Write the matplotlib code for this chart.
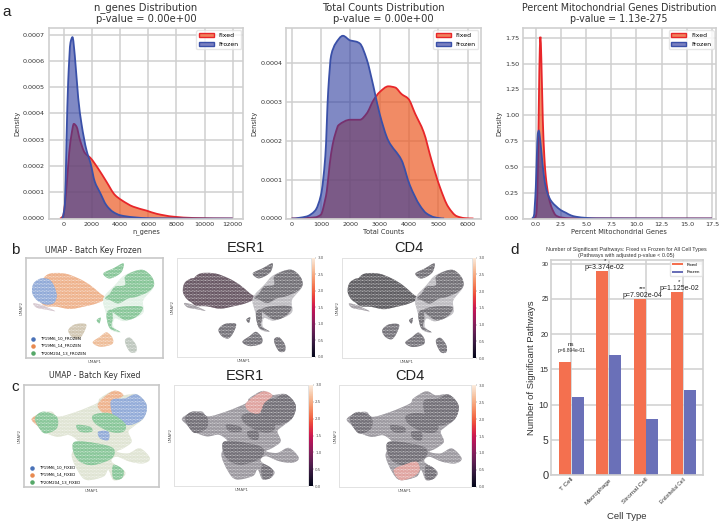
import numpy as np
import matplotlib
matplotlib.use("Agg")
import matplotlib.pyplot as plt
from matplotlib.patches import Patch, PathPatch
from matplotlib.path import Path
from matplotlib.cm import ScalarMappable
from matplotlib.colors import Normalize
import seaborn as sns

W, H = 720, 522

# --- panel a: density curves
genes_x_fixed = [-280, -50, 190, 380, 545, 710, 900, 1140, 1490, 1900, 2440, 3030, 3625, 4100, 4930, 5880, 6590, 7770, 9200, 12000]
genes_y_fixed = [0, 0.00001, 0.00012, 0.00025, 0.00032, 0.00036, 0.00035, 0.0003, 0.00025, 0.00023, 0.00019, 0.00014, 0.00009, 0.00007, 0.000045, 0.00003, 0.000018, 0.000007, 0.000002, 0]
genes_x_frozen = [-140, 70, 190, 308, 474, 616, 780, 1020, 1256, 1611, 1900, 2200, 2560, 3030, 3500, 4030, 4900, 6100, 12000]
genes_y_frozen = [0, 0.00005, 0.0003, 0.00052, 0.00067, 0.00069, 0.00062, 0.00046, 0.00036, 0.00026, 0.00021, 0.00014, 0.0001, 0.00005, 0.000025, 0.000012, 0.000005, 0.000001, 0]

counts_x_fixed = [0, 800, 1000, 1150, 1200, 1300, 1400, 1500, 1600, 2000, 2330, 2560, 2790, 3000, 3300, 3530, 3750, 3980, 4210, 4500, 4770, 5060, 5340, 5630, 5900, 6200]
counts_y_fixed = [0, 0.000003, 0.00001, 0.00005, 0.00007, 0.00014, 0.00019, 0.00022, 0.00024, 0.000254, 0.000254, 0.00027, 0.000304, 0.000325, 0.00034, 0.000337, 0.00032, 0.000308, 0.00027, 0.000223, 0.00015, 0.00008, 0.00003, 0.000006, 0.000001, 0]
counts_x_frozen = [0, 500, 800, 1000, 1150, 1250, 1350, 1500, 1750, 2000, 2200, 2330, 2560, 2790, 3000, 3300, 3750, 4030, 4370, 4600, 4880, 5200]
counts_y_frozen = [0, 0.000005, 0.00002, 0.00006, 0.00016, 0.00033, 0.00042, 0.00045, 0.00047, 0.000458, 0.000455, 0.00045, 0.00041, 0.00034, 0.00027, 0.0002, 0.00015, 0.000086, 0.000034, 0.000013, 0.000003, 0]

mito_x_fixed = [-0.3, 0, 0.1, 0.2, 0.3, 0.4, 0.46, 0.55, 0.7, 0.85, 1.0, 1.3, 1.6, 2, 2.5, 3.5, 17.5]
mito_y_fixed = [0, 0.02, 0.1, 0.45, 1.1, 1.65, 1.76, 1.55, 0.95, 0.6, 0.4, 0.2, 0.1, 0.03, 0.01, 0.002, 0]
mito_x_frozen = [-0.4, -0.2, 0, 0.1, 0.2, 0.3, 0.45, 0.6, 0.8, 1.0, 1.3, 1.6, 2, 2.5, 3, 3.5, 4, 5, 6, 10, 17.5]
mito_y_frozen = [0, 0.02, 0.3, 0.6, 0.82, 0.85, 0.75, 0.6, 0.42, 0.3, 0.21, 0.16, 0.12, 0.08, 0.055, 0.03, 0.017, 0.006, 0.002, 0.001, 0]

# --- panel d
cell_types = ["T Cell", "Macrophage", "Stromal Cell", "Endothelial Cell"]
fixed_counts = [16, 29, 25, 26]
frozen_counts = [11, 17, 8, 12]
stars = ["ns", "*", "***", "*"]
pvals = ["p=6.894e-01", "p=3.374e-02", "p=7.902e-04", "p=1.125e-02"]

# --- panels b/c: cluster outlines, units are arbitrary UMAP units
frozen_orange = [(140, 120), (190, 115), (235, 130), (270, 150), (300, 175), (318, 190), (290, 205), (250, 215), (210, 222), (170, 215), (130, 210), (110, 170)]
frozen_blue = [(97, 155), (105, 140), (125, 130), (150, 135), (165, 160), (170, 185), (160, 205), (135, 208), (110, 195), (97, 175)]
frozen_sliver = [(100, 205), (125, 210), (165, 228), (140, 224), (110, 218)]
frozen_halo = [(310, 190), (345, 150), (375, 120), (430, 105), (462, 150), (430, 195), (428, 235), (375, 258), (345, 250), (340, 275), (362, 292), (330, 282), (318, 235)]
frozen_green = [
    [(375, 125), (400, 110), (430, 105), (455, 125), (462, 150), (445, 170), (410, 185), (385, 190), (355, 205), (330, 195), (315, 190), (330, 175), (345, 155), (375, 150)],
    [(310, 115), (340, 100), (370, 85), (365, 110), (345, 125), (325, 130)],
    [(335, 225), (365, 215), (425, 215), (420, 235), (400, 250), (375, 255), (350, 240)],
    [(322, 230), (335, 225), (338, 250), (335, 275), (360, 290), (330, 280), (320, 250)],
    [(290, 255), (302, 248), (298, 265)],
]
frozen_small = [
    [(205, 285), (225, 268), (258, 268), (250, 295), (235, 312), (215, 305)],
    [(278, 322), (300, 305), (320, 292), (338, 310), (335, 328), (300, 335)],
    [(375, 315), (390, 308), (408, 330), (408, 350), (392, 352), (380, 335)],
]
fixed_body = [(95, 552), (120, 535), (155, 530), (175, 545), (230, 530), (290, 505), (300, 490), (340, 468), (370, 480), (410, 478), (440, 510), (430, 550), (400, 575), (385, 590), (395, 620), (370, 640), (350, 650), (385, 655), (420, 640), (450, 670), (430, 685), (390, 680), (350, 665), (335, 680), (375, 710), (365, 730), (340, 735), (325, 705), (310, 725), (260, 735), (235, 710), (215, 660), (235, 625), (225, 610), (205, 600), (170, 605), (130, 590), (110, 570)]
fixed_blue = [[(335, 495), (375, 490), (410, 478), (440, 510), (430, 550), (390, 570), (350, 560), (335, 530)], [(295, 590), (325, 590), (325, 615), (300, 610)]]
fixed_orange = [[(295, 505), (340, 468), (370, 480), (345, 500), (335, 540), (305, 530)], [(95, 552), (120, 540), (125, 575), (110, 570)]]
fixed_green = [
    [(280, 540), (330, 535), (375, 565), (370, 590), (330, 590), (285, 565)],
    [(105, 548), (130, 530), (170, 545), (170, 580), (135, 595), (115, 575)],
    [(230, 570), (270, 575), (275, 590), (240, 590)],
    [(225, 620), (290, 625), (340, 640), (335, 670), (280, 690), (240, 680), (220, 650)],
    [(340, 690), (370, 705), (365, 730), (340, 730)],
]
esr1_red = [(290, 505), (340, 470), (370, 482), (345, 505), (330, 535), (300, 530)]
cd4_red = [(240, 705), (270, 690), (310, 680), (320, 705), (300, 725), (260, 735)]

plt.rcParams["font.family"] = ["DejaVu Sans"]
plt.rcParams["hatch.linewidth"] = 0.5

fig = plt.figure(figsize=(W / 100, H / 100), dpi=100)


def px_axes(left, top, right, bottom):
    return fig.add_axes([left / W, 1 - bottom / H, (right - left) / W, (bottom - top) / H])


RED, BLUE = "#e8262a", "#3a50a8"
FILL_FIXED, FILL_FROZEN = "#ec5a24", "#2c3a9e"
GRID = "#cfcfcf"


def smooth_curve(x, y):
    # bezier through the read points, flat at the peaks so it does not overshoot
    x, y = np.asarray(x, float), np.asarray(y, float)
    h = np.diff(x)
    d = np.diff(y) / h
    m = np.zeros_like(x)
    for i in range(1, len(x) - 1):
        if d[i - 1] * d[i] > 0:
            m[i] = 2 * d[i - 1] * d[i] / (d[i - 1] + d[i])
    verts = [(x[0], y[0])]
    codes = [Path.MOVETO]
    for i in range(len(h)):
        verts += [(x[i] + h[i] / 3, y[i] + m[i] * h[i] / 3),
                  (x[i + 1] - h[i] / 3, y[i + 1] - m[i + 1] * h[i] / 3),
                  (x[i + 1], y[i + 1])]
        codes += [Path.CURVE4] * 3
    return verts, codes


def draw_density(ax, x, y, fill, alpha, line):
    verts, codes = smooth_curve(x, y)
    ax.add_patch(PathPatch(Path(verts + [(x[-1], 0), (x[0], 0), (x[0], 0)], codes + [Path.LINETO, Path.LINETO, Path.CLOSEPOLY]),
                           facecolor=fill, alpha=alpha, lw=0))
    ax.add_patch(PathPatch(Path(verts, codes), facecolor="none", edgecolor=line, lw=1.3))


def density_panel(box, xf, yf, xz, yz, xlim, ylim, xticks, yticks, fmt, xlabel, title, title_size=7.2):
    ax = px_axes(*box)
    ax.set_axisbelow(True)
    ax.grid(True, color=GRID, lw=1.1)
    draw_density(ax, xf, yf, FILL_FIXED, 0.7, RED)
    draw_density(ax, xz, yz, FILL_FROZEN, 0.6, BLUE)
    ax.set_xlim(xlim)
    ax.set_ylim(ylim)
    ax.set_xticks(xticks)
    ax.set_yticks(yticks)
    ax.set_yticklabels([fmt % v for v in yticks])
    ax.tick_params(length=0, labelsize=4.6, colors="#333333", pad=2.5)
    ax.set_xlabel(xlabel, fontsize=4.8, color="#333333", labelpad=1.5)
    ax.set_ylabel("Density", fontsize=4.8, color="#333333", labelpad=2)
    ax.set_title(title, fontsize=title_size, color="#333333", pad=4.5, linespacing=1.15)
    for s in ax.spines.values():
        s.set_color(GRID)
        s.set_linewidth(1.2)
    handles = [Patch(facecolor="#f0825c", edgecolor=RED, lw=1, label="Fixed"),
               Patch(facecolor="#7a80c0", edgecolor=BLUE, lw=1, label="Frozen")]
    ax.legend(handles=handles, loc="upper right", fontsize=4.4, framealpha=0.8, edgecolor="#e0e0e0",
              borderaxespad=0.4, handlelength=2.4, handleheight=0.7, labelspacing=0.55)


density_panel((48.5, 28, 243.5, 218.5), genes_x_fixed, genes_y_fixed, genes_x_frozen, genes_y_frozen,
              (-1090, 12770), (0, 0.000725), range(0, 12001, 2000), np.arange(0, 0.00071, 0.0001), "%.4f",
              "n_genes", "n_genes Distribution\np-value = 0.00e+00")
density_panel((286, 28, 480.5, 218.5), counts_x_fixed, counts_y_fixed, counts_x_frozen, counts_y_frozen,
              (-190, 6440), (0, 0.00049), range(0, 6001, 1000), np.arange(0, 0.00041, 0.0001), "%.4f",
              "Total Counts", "Total Counts Distribution\np-value = 0.00e+00")
density_panel((522.5, 28, 716, 218.5), mito_x_fixed, mito_y_fixed, mito_x_frozen, mito_y_frozen,
              (-1.32, 17.9), (0, 1.845), np.arange(0, 17.6, 2.5), np.arange(0, 1.76, 0.25), "%.2f",
              "Percent Mitochondrial Genes", "Percent Mitochondrial Genes Distribution\np-value = 1.13e-275", 6.85)


def blob(ax, pts, face, speck="#ffffff", hatch="............"):
    # closed rounded outline through the traced vertices, dots give the speckle of the point cloud
    p = np.asarray(pts, float)
    verts = [tuple(p[0])]
    codes = [Path.MOVETO]
    n = len(p)
    for i in range(n):
        c1 = p[i] + (p[(i + 1) % n] - p[i - 1]) / 6
        c2 = p[(i + 1) % n] - (p[(i + 2) % n] - p[i]) / 6
        verts += [tuple(c1), tuple(c2), tuple(p[(i + 1) % n])]
        codes += [Path.CURVE4] * 3
    ax.add_patch(PathPatch(Path(verts, codes), facecolor=face, edgecolor=speck, hatch=hatch, lw=0))


def umap_axes(box, xlim, ylim, thick=False):
    ax = px_axes(*box)
    ax.set_xlim(xlim)
    ax.set_ylim(ylim)
    ax.set_xticks([])
    ax.set_yticks([])
    ax.set_xlabel("UMAP1", fontsize=2.9, color="#555555", labelpad=1.5)
    ax.set_ylabel("UMAP2", fontsize=2.9, color="#555555", labelpad=1.5)
    for s in ax.spines.values():
        s.set_color("#c8c8c8" if thick else "#e2e2e2")
        s.set_linewidth(1.2 if thick else 0.7)
    return ax


def umap_colorbar(box):
    cax = px_axes(*box)
    sm = ScalarMappable(Normalize(0, 3), sns.color_palette("rocket", as_cmap=True))
    cb = fig.colorbar(sm, cax=cax)
    cb.set_ticks(np.arange(0, 3.1, 0.5))
    cb.ax.tick_params(labelsize=2.9, length=1, width=0.3, pad=0.8, colors="#555555")
    cb.outline.set_visible(False)


def batch_legend(ax, names):
    for name, c in zip(names, ["#4a72b8", "#e88a50", "#55a868"]):
        ax.scatter([], [], s=5, color=c, label=name)
    ax.legend(loc="lower left", frameon=False, fontsize=2.9, borderaxespad=0.3, labelspacing=0.75,
              handletextpad=0.8, bbox_to_anchor=(0.005, 0.0))


FROZEN_LIM = ((77, 488), (368, 68))
FIXED_LIM = ((72, 478), (755, 450))

# b: frozen
ax = umap_axes((25.7, 257.7, 162.7, 357.7), *FROZEN_LIM, thick=True)
blob(ax, frozen_orange, "#e99a68")
blob(ax, frozen_blue, "#6f90cc")
blob(ax, frozen_sliver, "#c9b6c0")
blob(ax, frozen_halo, "#d8ecdd")
for pts in frozen_green:
    blob(ax, pts, "#62b478")
blob(ax, frozen_small[0], "#c3b59a")
blob(ax, frozen_small[1], "#e9a878")
blob(ax, frozen_small[2], "#a9b5a9")
batch_legend(ax, ["TP19M6_10_FROZEN", "TP19M6_14_FROZEN", "TP20M204_13_FROZEN"])

for box, cbox, dark in [((176.7, 257.7, 311, 357), (311.7, 257.7, 315, 357), "#3a2434"),
                        ((341.7, 257.7, 471.7, 358), (472.7, 257.7, 476, 358), "#2c2a30")]:
    ax = umap_axes(box, *FROZEN_LIM)
    blob(ax, frozen_orange, dark)
    blob(ax, frozen_blue, dark)
    blob(ax, frozen_sliver, "#88828a")
    blob(ax, frozen_halo, "#a8a6ac")
    for pts in frozen_green:
        blob(ax, pts, "#45424a")
    for pts in frozen_small:
        blob(ax, pts, "#4a4750")
    umap_colorbar(cbox)

# c: fixed
ax = umap_axes((24, 385, 159.3, 486.7), *FIXED_LIM, thick=True)
blob(ax, fixed_body, "#d6dcc6")
for pts in fixed_orange:
    blob(ax, pts, "#e99a68")
for pts in fixed_blue:
    blob(ax, pts, "#6f90cc")
for pts in fixed_green:
    blob(ax, pts, "#62b478")
batch_legend(ax, ["TP19M6_10_FIXED", "TP19M6_14_FIXED", "TP20M204_13_FIXED"])

for box, cbox, red in [((174.3, 385, 308, 486), (309, 385, 312.7, 486), esr1_red),
                       ((339.3, 385.3, 470.7, 486.7), (472.3, 385.3, 476, 486.7), cd4_red)]:
    ax = umap_axes(box, *FIXED_LIM)
    blob(ax, fixed_body, "#7b7780")
    for pts in fixed_blue + fixed_green:
        blob(ax, pts, "#44404a")
    blob(ax, red, "#d58580")
    umap_colorbar(cbox)

for label, x, y in [("ESR1", 246, 248), ("CD4", 409, 248), ("ESR1", 245, 376), ("CD4", 410, 376)]:
    fig.text(x / W, 1 - y / H, label, fontsize=10.5, family="Liberation Sans", color="#222222", ha="center", va="center")

fig.text(93 / W, 1 - 250.5 / H, "UMAP - Batch Key Frozen", fontsize=5.6, color="#333333", ha="center", va="center")
fig.text(95 / W, 1 - 376 / H, "UMAP - Batch Key Fixed", fontsize=5.6, color="#333333", ha="center", va="center")

# d: pathway counts
ax = px_axes(550.7, 260, 702.7, 475)
ax.set_axisbelow(True)
ax.grid(True, color=GRID, lw=1.1)
pos = np.arange(len(cell_types))
ax.bar(pos - 0.17, fixed_counts, width=0.32, color="#f4704f", label="Fixed")
ax.bar(pos + 0.17, frozen_counts, width=0.32, color="#6a70b8", label="Frozen")
ax.set_xlim(-0.55, 3.52)
ax.set_ylim(0, 30.5)
ax.set_xticks(pos)
ax.set_xticklabels(cell_types, rotation=45, ha="right", rotation_mode="anchor", family="Liberation Sans", fontsize=4.6, color="#333333")
ax.get_xticklabels()[3].set_fontsize(3.4)
ax.set_yticks(range(0, 31, 5))
ax.set_yticklabels([str(v) for v in range(0, 31, 5)], family="Liberation Sans", color="#333333")
for lab, size in zip(ax.get_yticklabels(), [8, 7.5, 6.5, 5.8, 5.2, 4.8, 4.4]):
    lab.set_fontsize(size)
ax.tick_params(length=0, pad=1.5)
ax.set_xlabel("Cell Type", fontsize=6.8, family="Liberation Sans", color="#333333", labelpad=5)
ax.set_ylabel("Number of Significant Pathways", fontsize=6.8, family="Liberation Sans", color="#333333", labelpad=2)
ax.set_title("Number of Significant Pathways: Fixed vs Frozen for All Cell Types\n(Pathways with adjusted p-value < 0.05)",
             fontsize=3.9, family="Liberation Sans", color="#333333", pad=2.5, linespacing=1.05)
for s in ax.spines.values():
    s.set_color(GRID)
    s.set_linewidth(1.2)
for i, (n, star, p, size) in enumerate(zip(fixed_counts, stars, pvals, [3.5, 5, 5, 5])):
    x = i if i == 0 else i - 0.1
    top = n + (1.3 if i == 0 else 0.0)
    ax.text(x, top, p, fontsize=size, family="Liberation Sans", color="#222222", ha="center", va="bottom", clip_on=False)
    ax.text(x, top + (0.8 if i == 0 else 1.1), star, fontsize=4.5, family="Liberation Sans", color="#222222", ha="center", va="bottom", clip_on=False)
ax.legend(loc="upper right", fontsize=3.2, handlelength=2.6, borderaxespad=0.2, framealpha=0.85, edgecolor="#e0e0e0",
          handleheight=0.25, labelspacing=0.8, prop={"family": "Liberation Sans", "size": 3.2})

for s, x, y in [("a", 2, 12), ("b", 11, 250), ("c", 11, 387), ("d", 510, 250)]:
    fig.text(x / W, 1 - y / H, s, fontsize=11, family="Liberation Sans", color="#222222", va="center")

fig.savefig("out.png", dpi=100)
